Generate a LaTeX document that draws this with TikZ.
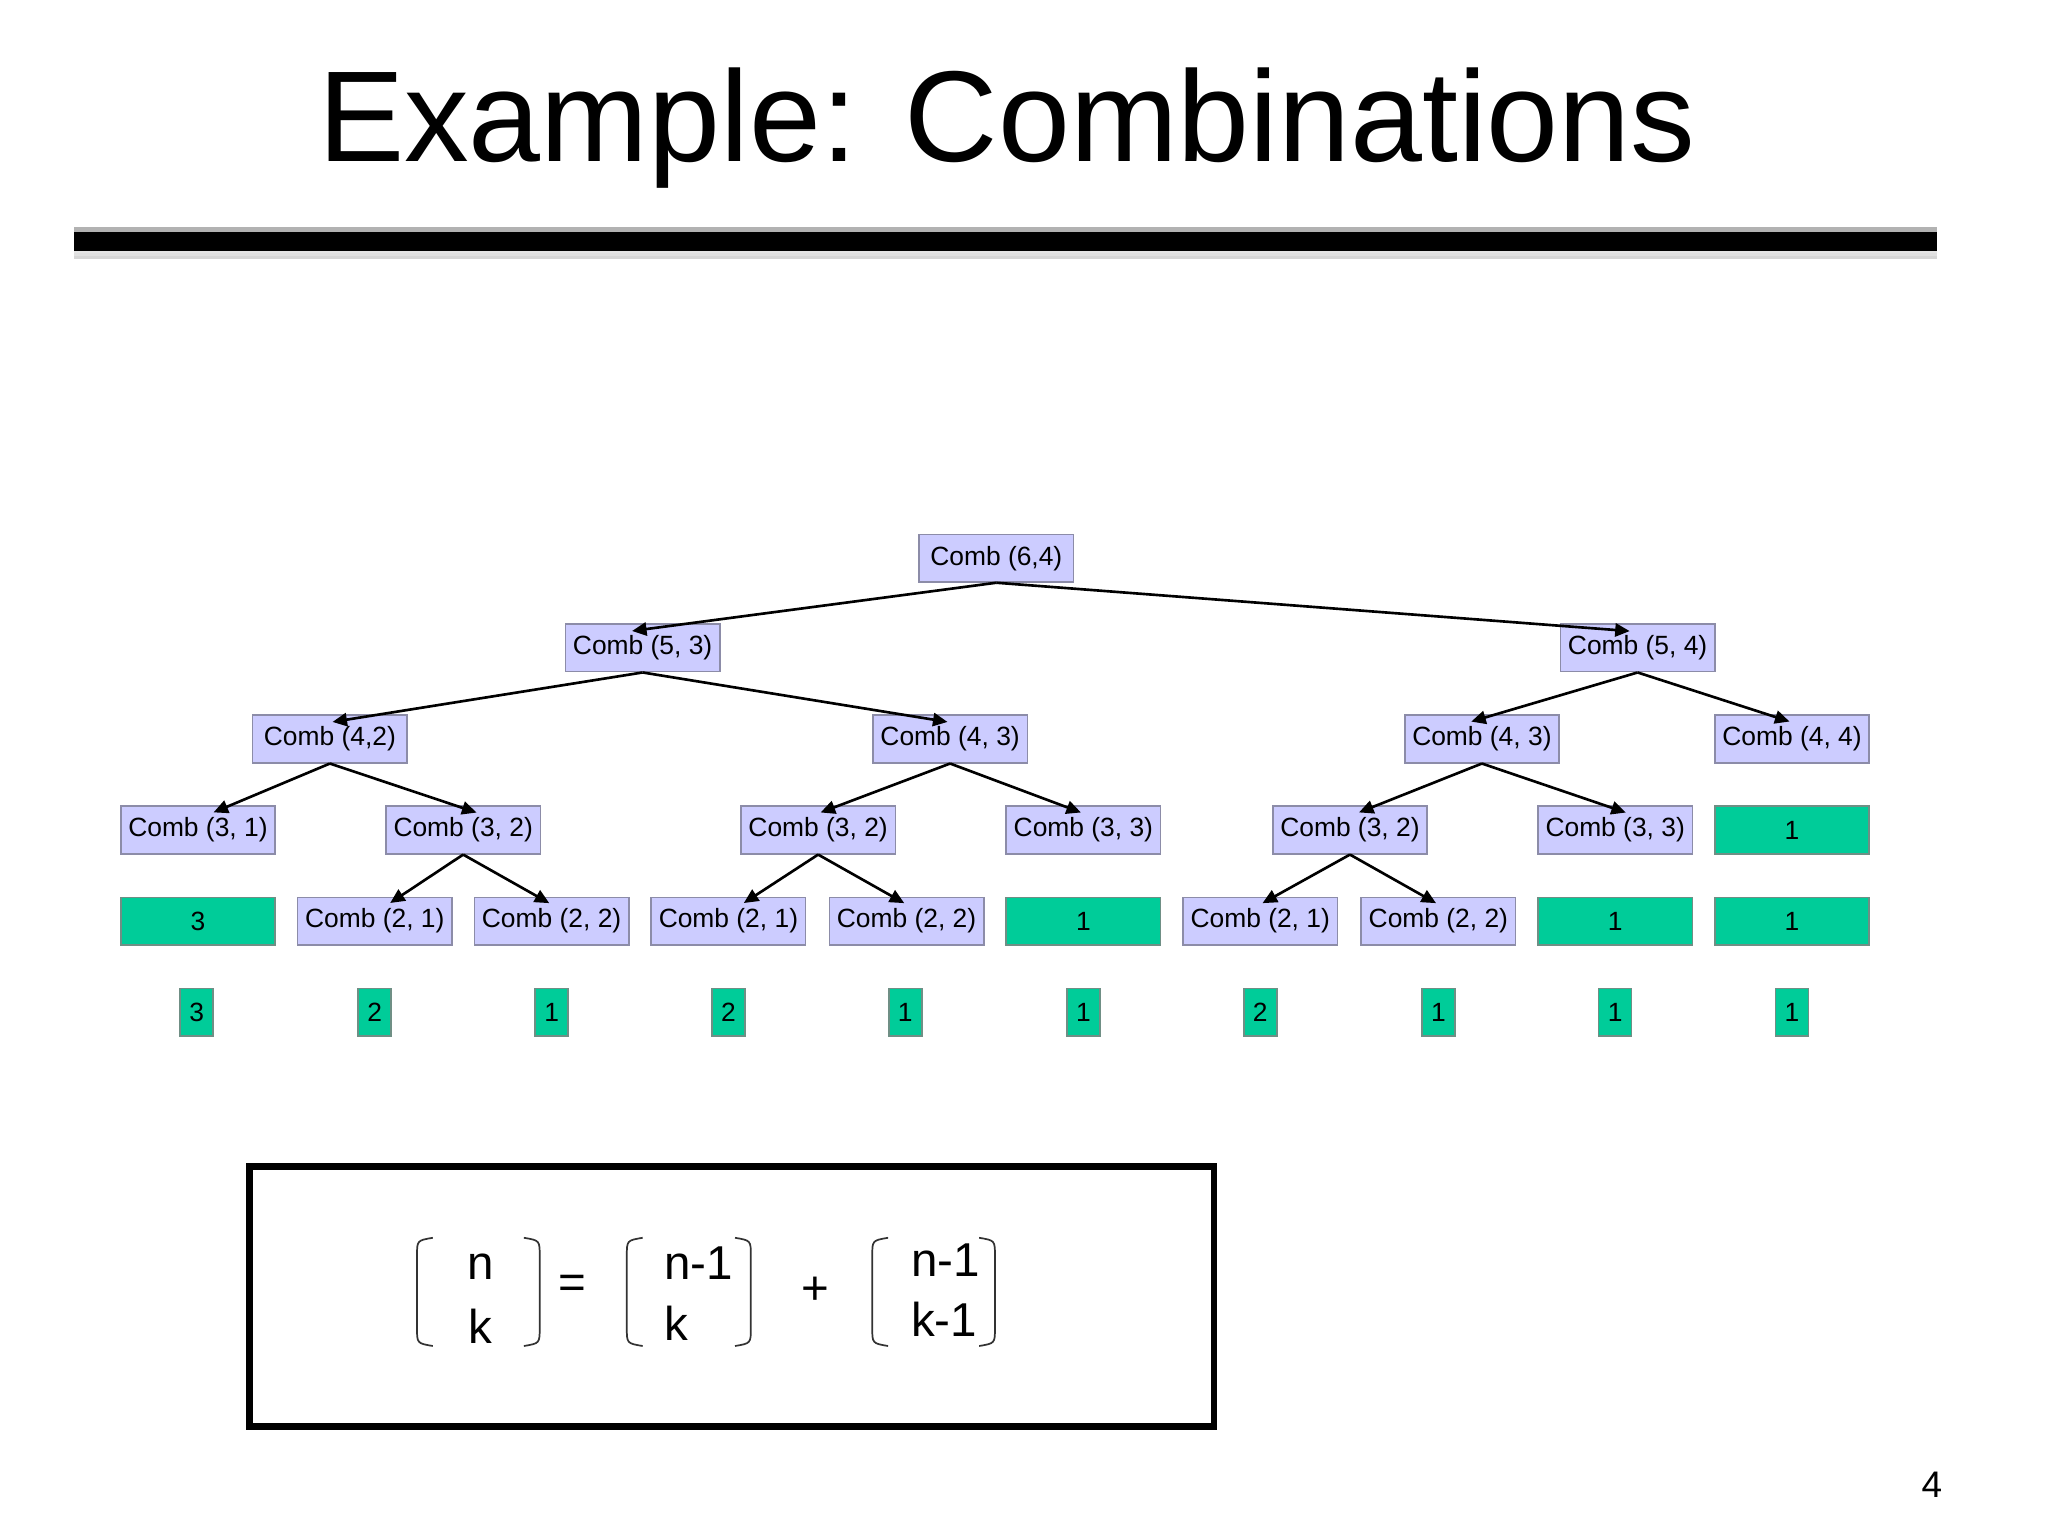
\documentclass[tikz,border=0pt]{standalone}
\usepackage{fontspec}
\setmainfont{Liberation Sans}
\usetikzlibrary{arrows.meta}
\definecolor{lav}{HTML}{CCCCFF}
\definecolor{lavb}{HTML}{8C8CA8}
\definecolor{grn}{HTML}{00CC99}
\definecolor{grnb}{HTML}{6F8F85}
\begin{document}
\begin{tikzpicture}[x=1pt,y=-1pt,
  cb/.style={draw=lavb,fill=lav,line width=1.2pt,minimum width=117pt,minimum height=36pt,inner sep=0pt,font=\fontsize{20}{22}\selectfont},
  gb/.style={draw=grnb,fill=grn,line width=1.2pt,minimum width=117pt,minimum height=36pt,inner sep=0pt,font=\fontsize{20}{22}\selectfont},
  sb/.style={gb,minimum width=25pt},
  ar/.style={-{Triangle[length=11pt,width=10pt]},line width=2pt,shorten >=2pt},
  fx/.style={font=\fontsize{36}{40}\selectfont},
  br/.style={line width=1.3pt,draw=black!80}]
\useasboundingbox (0,0) rectangle (1552,1164);
\node[font=\fontsize{98}{110}\selectfont] (title) at (763,97) {Example: Combinations};
% shaded bar
\foreach \i/\o in {0/0.08,1/0.1,2/0.12,3/0.16}{
  \fill[black,opacity=\o] (56,188+2*\i) rectangle (1468,190+2*\i);}
\fill[black] (56,176) rectangle (1468,190);
\fill[black!60,opacity=0.5] (56,172) rectangle (1468,176);
% tree
\node[cb] (a) at (755,423) {Comb (6,4)};
\node[cb] (b1) at (487,491) {Comb (5, 3)};
\node[cb] (b2) at (1241,491) {Comb (5, 4)};
\node[cb] (c1) at (250,560) {Comb (4,2)};
\node[cb] (c2) at (720,560) {Comb (4, 3)};
\node[cb] (c3) at (1123,560) {Comb (4, 3)};
\node[cb] (c4) at (1358,560) {Comb (4, 4)};
\node[cb] (d1) at (150,629) {Comb (3, 1)};
\node[cb] (d2) at (351,629) {Comb (3, 2)};
\node[cb] (d3) at (620,629) {Comb (3, 2)};
\node[cb] (d4) at (821,629) {Comb (3, 3)};
\node[cb] (d5) at (1023,629) {Comb (3, 2)};
\node[cb] (d6) at (1224,629) {Comb (3, 3)};
\node[gb] (d7) at (1358,629) {1};
\node[gb] (e1) at (150,698) {3};
\node[cb] (e2) at (284,698) {Comb (2, 1)};
\node[cb] (e3) at (418,698) {Comb (2, 2)};
\node[cb] (e4) at (552,698) {Comb (2, 1)};
\node[cb] (e5) at (687,698) {Comb (2, 2)};
\node[gb] (e6) at (821,698) {1};
\node[cb] (e7) at (955,698) {Comb (2, 1)};
\node[cb] (e8) at (1090,698) {Comb (2, 2)};
\node[gb] (e9) at (1224,698) {1};
\node[gb] (e10) at (1358,698) {1};
\foreach \n/\x/\t in {1/149/3,2/284/2,3/418/1,4/552/2,5/686/1,6/821/1,7/955/2,8/1090/1,9/1224/1,10/1358/1}
  \node[sb] (f\n) at (\x,767) {\t};
\draw[ar] (a.south) -- ([xshift=-10pt,yshift=-6pt]b1.north);
\draw[ar] (a.south) -- ([xshift=-4pt,yshift=-6pt]b2.north);
\draw[ar] (b1.south) -- ([yshift=-6pt]c1.north);
\draw[ar] (b1.south) -- ([yshift=-6pt]c2.north);
\draw[ar] (b2.south) -- ([xshift=-10pt,yshift=-6pt]c3.north);
\draw[ar] (b2.south) -- ([yshift=-6pt]c4.north);
\draw[ar] (c1.south) -- ([xshift=10pt,yshift=-6pt]d1.north);
\draw[ar] (c1.south) -- ([xshift=12pt,yshift=-6pt]d2.north);
\draw[ar] (c2.south) -- ([xshift=0pt,yshift=-6pt]d3.north);
\draw[ar] (c2.south) -- ([xshift=0pt,yshift=-6pt]d4.north);
\draw[ar] (c3.south) -- ([xshift=5pt,yshift=-6pt]d5.north);
\draw[ar] (c3.south) -- ([xshift=10pt,yshift=-6pt]d6.north);
\draw[ar] (d2.south) -- ([xshift=10pt,yshift=-6pt]e2.north);
\draw[ar] (d2.south) -- ([xshift=0pt,yshift=-6pt]e3.north);
\draw[ar] (d3.south) -- ([xshift=10pt,yshift=-6pt]e4.north);
\draw[ar] (d3.south) -- ([xshift=0pt,yshift=-6pt]e5.north);
\draw[ar] (d5.south) -- ([xshift=0pt,yshift=-6pt]e7.north);
\draw[ar] (d5.south) -- ([xshift=0pt,yshift=-6pt]e8.north);
% formula
\node[draw,line width=5pt,minimum width=731pt,minimum height=197pt,inner sep=0pt] (box) at (554.5,982.5) {};
\node[fx] (n1) at (364,960) {n};
\node[fx] (k1) at (364,1005) {k};
\node[fx] (eq) at (434,975) {=};
\node[fx,anchor=west] (n2) at (500,957) {n-1};
\node[fx,anchor=west] (k2) at (500,1003) {k};
\node[fx] (pl) at (618,978) {+};
\node[fx,anchor=west] (n3) at (687,955) {n-1};
\node[fx,anchor=west] (k3) at (687,1000) {k-1};
\foreach \l/\r in {316/409,475/569,661/754}{
  \draw[br] (\l+12,938) .. controls (\l,940) .. (\l,952) -- (\l,1006) .. controls (\l,1018) .. (\l+12,1020);
  \draw[br] (\r-12,938) .. controls (\r,940) .. (\r,952) -- (\r,1006) .. controls (\r,1018) .. (\r-12,1020);}
\node[font=\fontsize{28}{30}\selectfont] (pg) at (1464,1125) {4};
\end{tikzpicture}
\end{document}
